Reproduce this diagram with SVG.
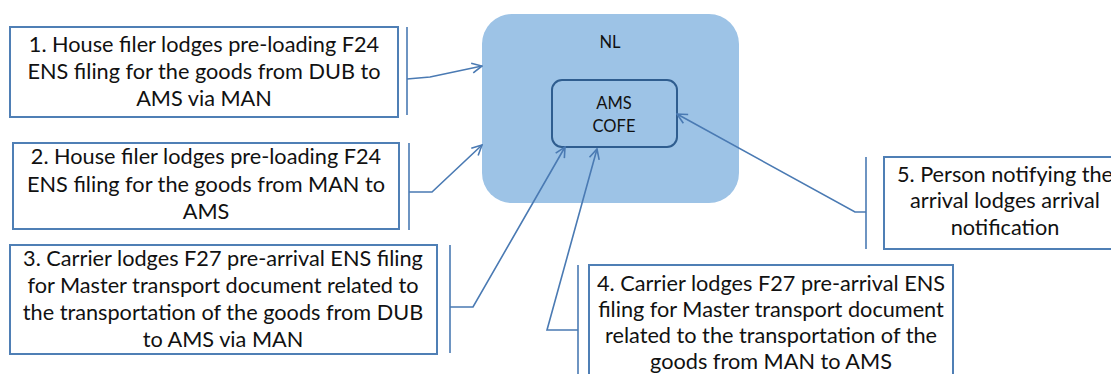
<svg xmlns="http://www.w3.org/2000/svg" width="1111" height="374" viewBox="0 0 1111 374">
<style>
.box{fill:#ffffff;stroke:#4f7fb5;stroke-width:2}
.t{font-family:Lato,"Open Sans",sans-serif;font-size:21.7px;fill:#111;text-anchor:middle}
.m{font-size:16.5px}
.c{fill:none;stroke:#4a7ab3;stroke-width:1.6}
.br{fill:none;stroke:#4a7ab3;stroke-width:1.6}
</style>
<defs>
<marker id="arr" viewBox="0 0 12 12" refX="11" refY="6" markerWidth="12" markerHeight="12" markerUnits="userSpaceOnUse" orient="auto">
<path d="M1,1 L11,6 L1,11" fill="none" stroke="#4a7ab3" stroke-width="1.6"/>
</marker>
</defs>
<g id="nl">
<rect x="482" y="14" width="257" height="189" rx="30" fill="#9dc3e6"/>
<text class="t m" x="610" y="48">NL</text>
</g>
<g id="cofe">
<rect x="552" y="80" width="125" height="67" rx="10" fill="#9dc3e6" stroke="#2f5d8f" stroke-width="2"/>
<text class="t m" x="614" y="109">AMS</text>
<text class="t m" x="614" y="132">COFE</text>
</g>
<g id="n1">
<rect class="box" x="10" y="27" width="388" height="90"/>
<text class="t" x="204" y="52">1. House filer lodges pre-loading F24</text>
<text class="t" x="204" y="79">ENS filing for the goods from DUB to</text>
<text class="t" x="204" y="106">AMS via MAN</text>
</g>
<g id="n2">
<rect class="box" x="13" y="143" width="386" height="86"/>
<text class="t" x="206" y="164">2. House filer lodges pre-loading F24</text>
<text class="t" x="206" y="192">ENS filing for the goods from MAN to</text>
<text class="t" x="206" y="219">AMS</text>
</g>
<g id="n3">
<rect class="box" x="10" y="245" width="427" height="109"/>
<text class="t" x="223" y="266">3. Carrier lodges F27 pre-arrival ENS filing</text>
<text class="t" x="223" y="293">for Master transport document related to</text>
<text class="t" x="223" y="320">the transportation of the goods from DUB</text>
<text class="t" x="223" y="347">to AMS via MAN</text>
</g>
<g id="n4">
<rect class="box" x="589" y="265" width="364" height="120"/>
<text class="t" x="771" y="291">4. Carrier lodges F27 pre-arrival ENS</text>
<text class="t" x="771" y="317">filing for Master transport document</text>
<text class="t" x="771" y="343">related to the transportation of the</text>
<text class="t" x="771" y="369">goods from MAN to AMS</text>
</g>
<g id="n5">
<rect class="box" x="884" y="157" width="250" height="92"/>
<text class="t" x="1005" y="182">5. Person notifying the</text>
<text class="t" x="1005" y="208">arrival lodges arrival</text>
<text class="t" x="1005" y="235">notification</text>
</g>
<g id="connectors">
<path class="br" d="M407,27 V115"/>
<path class="c" d="M407,79 L430,77 L482,66" marker-end="url(#arr)"/>
<path class="br" d="M409,143 V230"/>
<path class="c" d="M409,192 L432,192 L482,145" marker-end="url(#arr)"/>
<path class="br" d="M450,245 V353"/>
<path class="c" d="M450,307 L473,307 L565,147" marker-end="url(#arr)"/>
<path class="br" d="M578,265 V374"/>
<path class="c" d="M578,330 L547,330 L597,149" marker-end="url(#arr)"/>
<path class="br" d="M866,157 V249"/>
<path class="c" d="M866,212 L855,212 L677,114" marker-end="url(#arr)"/>
</g>
</svg>
